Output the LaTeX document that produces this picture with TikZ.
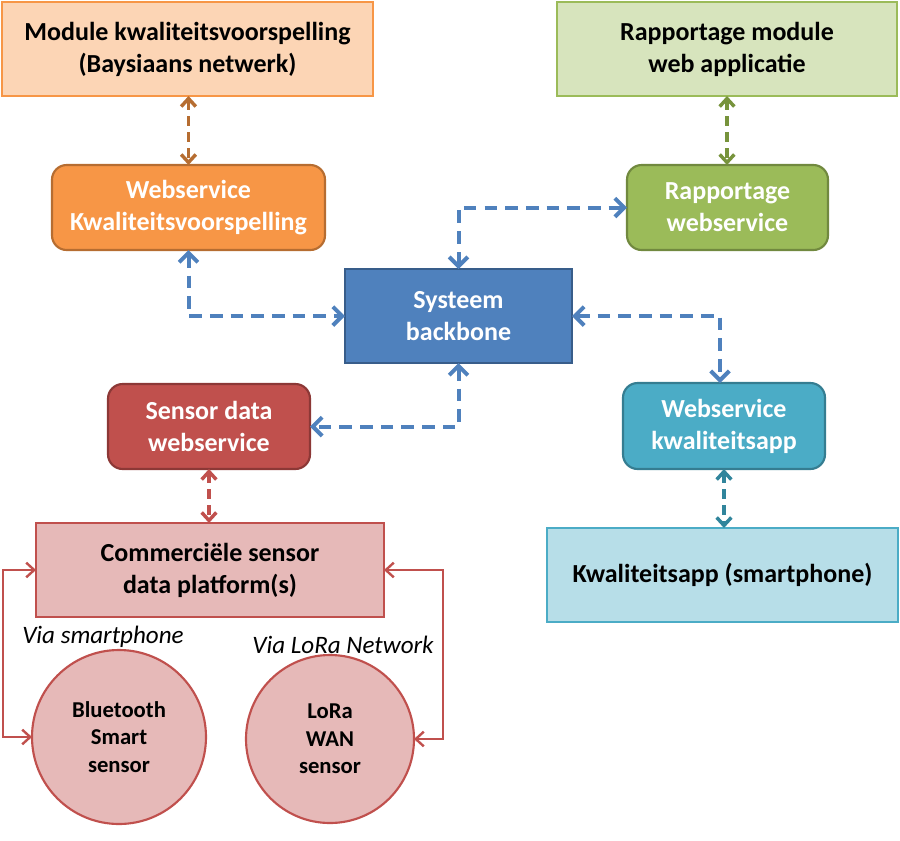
\documentclass[tikz,border=0pt]{standalone}
\usepackage{fontspec}
\setmainfont{Carlito}
\usetikzlibrary{arrows.meta}
\definecolor{oLight}{HTML}{FCD5B5}
\definecolor{oMain}{HTML}{F79646}
\definecolor{oDark}{HTML}{B66D31}
\definecolor{gLight}{HTML}{D7E4BD}
\definecolor{gMain}{HTML}{9BBB59}
\definecolor{gDark}{HTML}{71893F}
\definecolor{bMain}{HTML}{4F81BD}
\definecolor{bDark}{HTML}{385D8A}
\definecolor{rMain}{HTML}{C0504D}
\definecolor{rDark}{HTML}{8C3836}
\definecolor{rLight}{HTML}{E6B9B8}
\definecolor{tMain}{HTML}{4BACC6}
\definecolor{tDark}{HTML}{357D91}
\definecolor{tLight}{HTML}{B7DEE8}
\definecolor{gConn}{HTML}{77933C}
\definecolor{tConn}{HTML}{31859C}
\begin{document}
\begin{tikzpicture}[x=0.75pt,y=-0.75pt,
  box/.style={draw, line width=1.6pt, inner sep=0pt, outer sep=0pt, align=center,
    font=\fontsize{19.5}{24}\selectfont\bfseries},
  rbox/.style={box, rounded corners=11pt, text=white},
  circ/.style={circle, draw=rMain, fill=rLight, line width=1.6pt, inner sep=0pt, outer sep=0pt,
    align=center, font=\fontsize{17}{20.5}\selectfont\bfseries},
  vialabel/.style={font=\fontsize{18.8}{22}\selectfont\itshape, inner sep=0pt},
  bconn/.style={draw=bMain, line width=3pt, dash pattern=on 9.5pt off 6pt,
    {Straight Barb[length=7pt,width=14pt]}-{Straight Barb[length=7pt,width=14pt]}},
  sconn/.style={line width=2.6pt, dash pattern=on 7pt off 5pt,
    {Straight Barb[length=6pt,width=11pt]}-{Straight Barb[length=6pt,width=11pt]}},
  rconn/.style={draw=rMain, line width=1.8pt,
    {Straight Barb[length=6pt,width=11pt]}-{Straight Barb[length=6pt,width=11pt]}}
]
\useasboundingbox (0,0) rectangle (900,840);

\node[box, fill=oLight, draw=oMain, minimum width={371*0.75pt}, minimum height={94*0.75pt}]
  (mod) at (187.5,49) {Module kwaliteitsvoorspelling\\(Baysiaans netwerk)};
\node[box, fill=gLight, draw=gMain, minimum width={340*0.75pt}, minimum height={94*0.75pt}]
  (rmod) at (727,49) {Rapportage module\\web applicatie};
\node[rbox, fill=oMain, draw=oDark, minimum width={273*0.75pt}, minimum height={85*0.75pt}]
  (wkv) at (188.5,207.5) {Webservice\\Kwaliteitsvoorspelling};
\node[rbox, fill=gMain, draw=gDark, minimum width={201*0.75pt}, minimum height={85*0.75pt}]
  (rws) at (727.5,207.5) {Rapportage\\webservice};
\node[box, fill=bMain, draw=bDark, text=white, minimum width={227*0.75pt}, minimum height={94*0.75pt}]
  (bb) at (458.5,316) {Systeem\\backbone};
\node[rbox, fill=rMain, draw=rDark, minimum width={202*0.75pt}, minimum height={85*0.75pt}]
  (sdw) at (209,426.5) {Sensor data\\webservice};
\node[rbox, fill=tMain, draw=tDark, minimum width={202*0.75pt}, minimum height={86*0.75pt}]
  (wka) at (724,426) {Webservice\\kwaliteitsapp};
\node[box, fill=rLight, draw=rMain, minimum width={348*0.75pt}, minimum height={94*0.75pt}]
  (csp) at (210,570) {Commerciële sensor\\data platform(s)};
\node[box, fill=tLight, draw=tMain, minimum width={351*0.75pt}, minimum height={94*0.75pt}]
  (ka) at (722.5,575) {Kwaliteitsapp (smartphone)};
\node[circ, minimum size={174*0.75pt}] (bt) at (119,737) {Bluetooth\\Smart\\sensor};
\node[circ, minimum size={168*0.75pt}] (lora) at (330,739) {LoRa\\WAN\\sensor};

\node[vialabel] (via1) at (103,637) {Via smartphone};
\node[vialabel] (via2) at (343,645) {Via LoRa Network};

% small dashed connectors
\draw[sconn, draw=oDark] (mod.south -| wkv.north) -- (wkv.north);
\draw[sconn, draw=gConn] (rmod.south) -- (rmod.south |- rws.north);
\draw[sconn, draw=rMain] (sdw.south) -- (sdw.south |- csp.north);
\draw[sconn, draw=tConn] (wka.south) -- (wka.south |- ka.north);

% backbone connectors
\draw[bconn] (wkv.south) |- (bb.west);
\draw[bconn] (bb.north) |- (rws.west);
\draw[bconn] (bb.east) -| ([xshift=-3]wka.north);
\draw[bconn] (bb.south) |- (sdw.east);

% sensor connectors
\draw[rconn] (csp.west) -- ++(-33,0) |- (bt.west);
\draw[rconn] (csp.east) -- ++(59,0) |- (lora.east);
\end{tikzpicture}
\end{document}
